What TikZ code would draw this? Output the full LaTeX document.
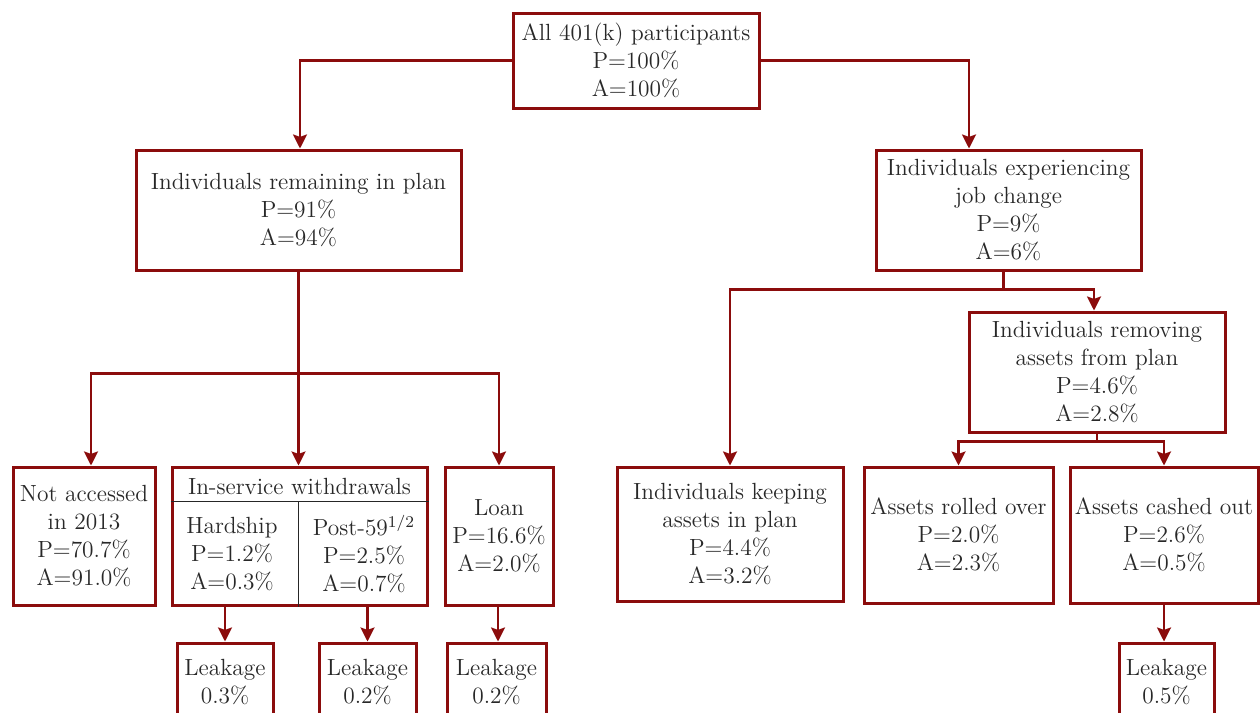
\documentclass[tikz,border=0pt]{standalone}
\usetikzlibrary{calc,arrows.meta}
\definecolor{dred}{RGB}{139,12,12}
\definecolor{txt}{RGB}{40,40,40}
\begin{document}
\begin{tikzpicture}[x=0.5pt,y=-0.5pt,
  box/.style={draw=dred,line width=1.5pt,fill=white,align=center,text=txt,inner sep=0pt,
    font=\fontsize{11.7}{14}\selectfont},
  lbl/.style={align=center,text=txt,inner sep=0pt,font=\fontsize{11.7}{14}\selectfont},
  conn/.style={draw=dred,line width=1.2pt},
  arr/.style={conn,-{Stealth[length=7pt,width=7pt,inset=1.2pt]}},
  divline/.style={draw=black!85,line width=0.5pt}]
\useasboundingbox (0,0) rectangle (1260,713);
% boxes
\node[box,minimum width=123pt,minimum height=47.5pt] (top) at (636,60.5) {All 401(k) participants\\P=100\%\\A=100\%};
\node[box,minimum width=162.5pt,minimum height=60pt] (remain) at (298.5,210) {Individuals remaining in plan\\P=91\%\\A=94\%};
\node[box,minimum width=132.5pt,minimum height=60pt] (jobchg) at (1008.5,210) {Individuals experiencing\\job change\\P=9\%\\A=6\%};
\node[box,minimum width=128pt,minimum height=60pt] (remove) at (1097,372) {Individuals removing\\assets from plan\\P=4.6\%\\A=2.8\%};
\node[box,minimum width=71pt,minimum height=69pt] (notacc) at (84,536) {Not accessed\\in 2013\\P=70.7\%\\A=91.0\%};
\node[box,minimum width=127.5pt,minimum height=69pt] (insvc) at (299.5,536) {};
\node[box,minimum width=54pt,minimum height=69pt] (loan) at (499,536) {Loan\\P=16.6\%\\A=2.0\%};
\node[box,minimum width=113pt,minimum height=67pt] (keep) at (730,534) {Individuals keeping\\assets in plan\\P=4.4\%\\A=3.2\%};
\node[box,minimum width=94.5pt,minimum height=68pt] (rolled) at (958.5,535) {Assets rolled over\\P=2.0\%\\A=2.3\%};
\node[box,minimum width=94pt,minimum height=68pt] (cashed) at (1164,535) {Assets cashed out\\P=2.6\%\\A=0.5\%};
\node[box,minimum width=48pt,minimum height=39.5pt] (leak1) at (225,682.5) {Leakage\\0.3\%};
\node[box,minimum width=48.5pt,minimum height=39.5pt] (leak2) at (367.5,682.5) {Leakage\\0.2\%};
\node[box,minimum width=49.5pt,minimum height=39.5pt] (leak3) at (496.5,682.5) {Leakage\\0.2\%};
\node[box,minimum width=47.5pt,minimum height=39.5pt] (leak4) at (1166.5,682.5) {Leakage\\0.5\%};
% in-service internals
\node[lbl] (inhead) at (299.5,486) {In-service withdrawals};
\coordinate (hl) at ($(insvc.north west)+(0,36)$);
\coordinate (vd) at ($(insvc.north)+(-1.5,36)$);
\draw[divline] (hl) -- (hl -| insvc.east);
\draw[divline] (vd) -- (vd |- insvc.south);
\node[lbl] (hard) at (232,554) {Hardship\\P=1.2\%\\A=0.3\%};
\node[lbl] (post) at (364,554) {Post-59\textsuperscript{1/2}\\P=2.5\%\\A=0.7\%};
% connectors from top
\draw[arr] (top.west) -| ($(remain.north)+(1.5,0)$);
\draw[arr] (top.east) -| ($(jobchg.north)+(-39.5,0)$);
% left subtree
\coordinate (lm) at ($(remain.south)+(0,102)$);
\draw[arr] (remain.south) -- (remain.south |- insvc.north);
\draw[arr] (lm) -| ($(notacc.north)+(7,0)$);
\draw[arr] (lm) -| (loan.north);
% right subtree
\coordinate (jm0) at ($(jobchg.south)+(-5,0)$);
\coordinate (jm) at ($(jobchg.south)+(-5,18)$);
\draw[conn] (jm0) -- (jm);
\draw[arr] (jm) -| (keep.north);
\draw[arr] (jm) -| ($(remove.north)+(-3,0)$);
\coordinate (rm) at ($(remove.south)+(0,8)$);
\draw[conn] (remove.south) -- (rm);
\draw[arr] (rm) -| (rolled.north);
\draw[arr] (rm) -| (cashed.north);
% leakage arrows
\draw[arr] (leak1.north |- insvc.south) -- (leak1.north);
\draw[arr] (leak2.north |- insvc.south) -- (leak2.north);
\draw[arr] ($(leak3.north |- loan.south)+(1.5,0)$) -- ($(leak3.north)+(1.5,0)$);
\draw[arr] ($(leak4.north |- cashed.south)+(-2.5,0)$) -- ($(leak4.north)+(-2.5,0)$);
\end{tikzpicture}
\end{document}
